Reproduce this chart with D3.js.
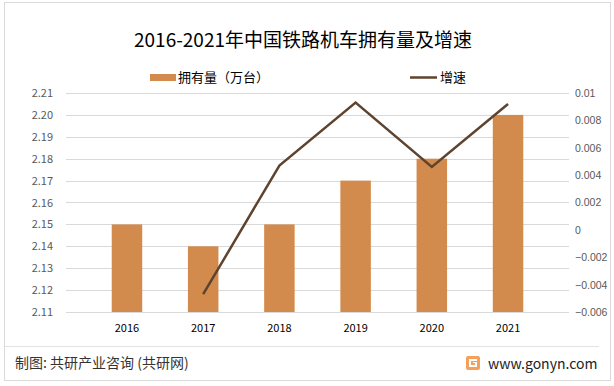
<!DOCTYPE html>
<html>
<head>
<meta charset="utf-8">
<script src="https://cdn.jsdelivr.net/npm/d3@7"></script>
<style>
html, body { margin: 0; padding: 0; background: #fff; overflow: hidden; }
svg { display: block; }
text { font-family: "Noto Sans CJK SC", "Noto Sans", sans-serif; }
</style>
</head>
<body>
<div id="chart"></div>
<script>
let years = ['2016', '2017', '2018', '2019', '2020', '2021'];
let stock = [2.15, 2.14, 2.15, 2.17, 2.18, 2.20];
let growth = [null, -0.0047, 0.0047, 0.0093, 0.0046, 0.0092];
let leftTicks = [2.11, 2.12, 2.13, 2.14, 2.15, 2.16, 2.17, 2.18, 2.19, 2.20, 2.21];
let rightTicks = [-0.006, -0.004, -0.002, 0, 0.002, 0.004, 0.006, 0.008, 0.01];

let width = 614;
let height = 386;
let svg = d3.select('#chart')
    .append('svg')
    .attr('width', width)
    .attr('height', height);

// frame
svg.append('rect')
    .attr('x', 4.5).attr('y', 2.5)
    .attr('width', 606).attr('height', 378)
    .attr('fill', 'none').attr('stroke', '#d9d9d9');
svg.append('line')
    .attr('x1', 5).attr('x2', 599)
    .attr('y1', 346.5).attr('y2', 346.5)
    .attr('stroke', '#e3e3e3');

let x = d3.scaleBand().domain(years).range([66, 569]).padding(0.6);
let yL = d3.scaleLinear().domain([2.11, 2.21]).range([312, 93]);
let yR = d3.scaleLinear().domain([-0.006, 0.01]).range([312, 93]);

// gridlines
svg.append('g')
    .selectAll('line')
    .data(leftTicks)
    .enter().append('line')
    .attr('x1', 66).attr('x2', 569)
    .attr('y1', d => Math.round(yL(d)) + 0.5)
    .attr('y2', d => Math.round(yL(d)) + 0.5)
    .attr('stroke', '#d9d9d9');

// left axis
let axL = svg.append('g')
    .attr('transform', 'translate(66,0)')
    .call(d3.axisLeft(yL).tickValues(leftTicks).tickFormat(d3.format('.2f')).tickSize(0).tickPadding(13));
axL.select('.domain').remove();
axL.selectAll('text').attr('fill', '#595959').style('font-size', '11px');

// right axis
let axR = svg.append('g')
    .attr('transform', 'translate(569,0)')
    .call(d3.axisRight(yR).tickValues(rightTicks).tickFormat(d => d3.format('')(+d.toFixed(3))).tickSize(0).tickPadding(6));
axR.select('.domain').remove();
axR.selectAll('text').attr('fill', '#595959')
    .style('font-family', '"Liberation Sans", Arial, sans-serif')
    .style('font-size', '10.5px');

// bottom axis
let axB = svg.append('g')
    .attr('transform', 'translate(0,312)')
    .call(d3.axisBottom(x).tickSize(0).tickPadding(12));
axB.select('.domain').remove();
axB.selectAll('text').attr('fill', '#000').style('font-size', '11px');

// bars
svg.append('g')
    .selectAll('rect')
    .data(stock)
    .enter().append('rect')
    .attr('x', (d, i) => x(years[i]))
    .attr('width', x.bandwidth())
    .attr('y', d => yL(d))
    .attr('height', d => yL(2.11) - yL(d))
    .attr('fill', '#d38b4d');

// line
let line = d3.line()
    .defined(d => d != null)
    .x((d, i) => x(years[i]) + x.bandwidth() / 2)
    .y(d => yR(d));
svg.append('path')
    .datum(growth)
    .attr('d', line)
    .attr('fill', 'none')
    .attr('stroke', '#5e432e')
    .attr('stroke-width', 2.5)
    .attr('stroke-linejoin', 'miter');

// title
svg.append('text')
    .attr('x', 303).attr('y', 47)
    .attr('text-anchor', 'middle')
    .style('font-size', '19px')
    .attr('fill', '#000')
    .text('2016-2021年中国铁路机车拥有量及增速');

// legend
svg.append('rect')
    .attr('x', 150).attr('y', 74).attr('width', 26).attr('height', 7)
    .attr('fill', '#d38b4d');
svg.append('text')
    .attr('x', 178).attr('y', 82)
    .style('font-size', '13px')
    .text('拥有量（万台）');
svg.append('line')
    .attr('x1', 410).attr('x2', 437).attr('y1', 77.5).attr('y2', 77.5)
    .attr('stroke', '#5e432e').attr('stroke-width', 2.5);
svg.append('text')
    .attr('x', 440).attr('y', 82)
    .style('font-size', '13px')
    .text('增速');

// footer
svg.append('text')
    .attr('x', 15).attr('y', 368)
    .style('font-size', '14px')
    .attr('fill', '#333')
    .text('制图: 共研产业咨询 (共研网)');

let logo = svg.append('g').attr('transform', 'translate(466,356)');
logo.append('rect')
    .attr('width', 14).attr('height', 14).attr('rx', 2)
    .attr('fill', '#f5a05a');
logo.append('path')
    .attr('d', 'M3,3 H11 V5 H5 V9 H9 V7 H7 V6 H11 V11 H3 Z')
    .attr('fill', '#fff');

svg.append('text')
    .attr('x', 488).attr('y', 369)
    .style('font-size', '14px')
    .attr('fill', '#222')
    .text('www.gonyn.com');
</script>
</body>
</html>
